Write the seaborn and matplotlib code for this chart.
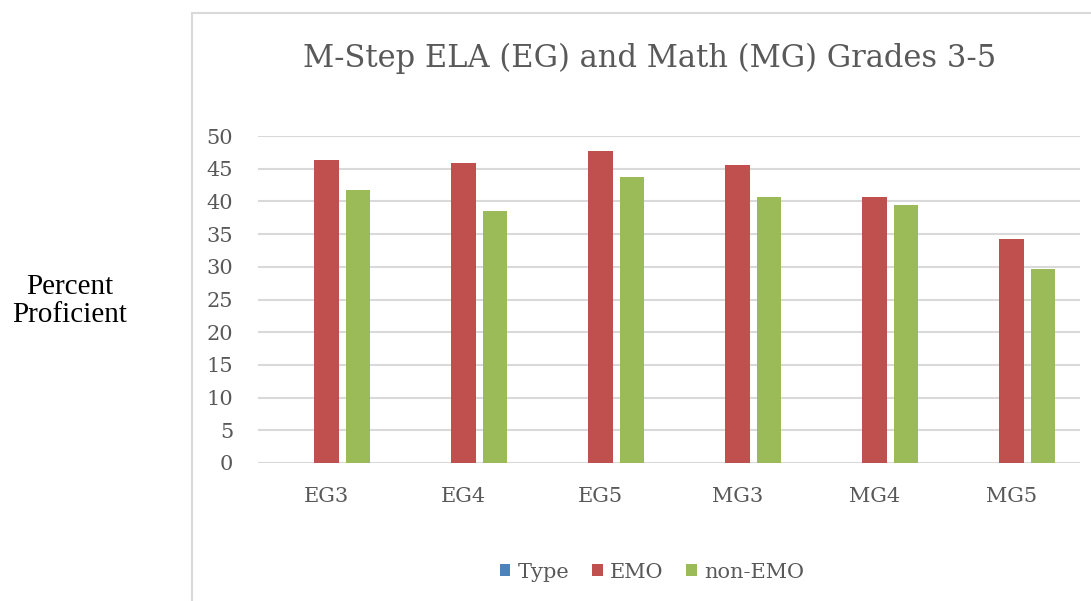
import matplotlib
matplotlib.use("Agg")
import matplotlib.pyplot as plt
from matplotlib.patches import Patch, Rectangle
import seaborn as sns
import pandas as pd

# Data
categories = ["EG3", "EG4", "EG5", "MG3", "MG4", "MG5"]
series_names = ["Type", "EMO", "non-EMO"]
type_vals = [0, 0, 0, 0, 0, 0]
emo_vals = [46.3, 45.9, 47.7, 45.6, 40.6, 34.2]
non_emo_vals = [41.8, 38.5, 43.8, 40.6, 39.5, 29.6]
y_ticks = [0, 5, 10, 15, 20, 25, 30, 35, 40, 45, 50]

colors = {"Type": "#4F81BD", "EMO": "#C0504D", "non-EMO": "#9BBB59"}

rows = []
for name, vals in zip(series_names, [type_vals, emo_vals, non_emo_vals]):
    for cat, v in zip(categories, vals):
        rows.append({"Grade": cat, "Series": name, "Value": v})
df = pd.DataFrame(rows)

sns.set_theme(style="white")
serif_cambria = ["DejaVu Serif"]
text_gray = "#595959"
grid_gray = "#D9D9D9"

fig = plt.figure(figsize=(10.91, 6.01), dpi=100)
ax = fig.add_axes([258 / 1091, 1 - 463 / 601, (1080 - 258) / 1091, (463 - 136) / 601])

sns.barplot(
    data=df, x="Grade", y="Value", hue="Series",
    order=categories, hue_order=series_names, palette=colors,
    width=0.682, gap=0.226, linewidth=0, saturation=1,
    legend=False, ax=ax, zorder=3,
)

ax.set_ylim(0, 50)
ax.set_xlim(-0.5, len(categories) - 0.5)
ax.set_yticks(y_ticks)
ax.yaxis.grid(True, color=grid_gray, linewidth=1.5)
ax.xaxis.grid(False)
ax.set_axisbelow(True)
for s in ax.spines.values():
    s.set_visible(False)
ax.tick_params(axis="both", length=0, labelsize=15, labelcolor=text_gray)
ax.tick_params(axis="y", pad=18)
ax.tick_params(axis="x", pad=17)
for lbl in ax.get_xticklabels() + ax.get_yticklabels():
    lbl.set_family(serif_cambria)
ax.set_xlabel("")
ax.set_ylabel("")

# Chart frame
fig.patches.append(Rectangle((192 / 1091, -0.05), 1.0, 1 - 13 / 601 + 0.05,
                             transform=fig.transFigure, fill=False,
                             edgecolor=grid_gray, linewidth=1.5, zorder=0))

fig.text(650 / 1091, 1 - 58 / 601, "M-Step ELA (EG) and Math (MG) Grades 3-5",
         ha="center", va="center", fontsize=22, color=text_gray, family=serif_cambria)

fig.text(70 / 1091, 1 - 301 / 601, "Percent\nProficient", ha="center", va="center",
         fontsize=21, color="black", family=["Liberation Serif"], linespacing=1.05)

handles = [Patch(facecolor=colors[n], edgecolor="none", label=n) for n in series_names]
leg = fig.legend(handles=handles, loc="center", bbox_to_anchor=(652 / 1091, 1 - 572 / 601),
                 ncol=3, frameon=False, handlelength=0.5, handleheight=0.5,
                 handletextpad=0.35, columnspacing=1.1,
                 prop={"family": serif_cambria, "size": 15})
for t in leg.get_texts():
    t.set_color(text_gray)

fig.savefig("out.png", dpi=100)
